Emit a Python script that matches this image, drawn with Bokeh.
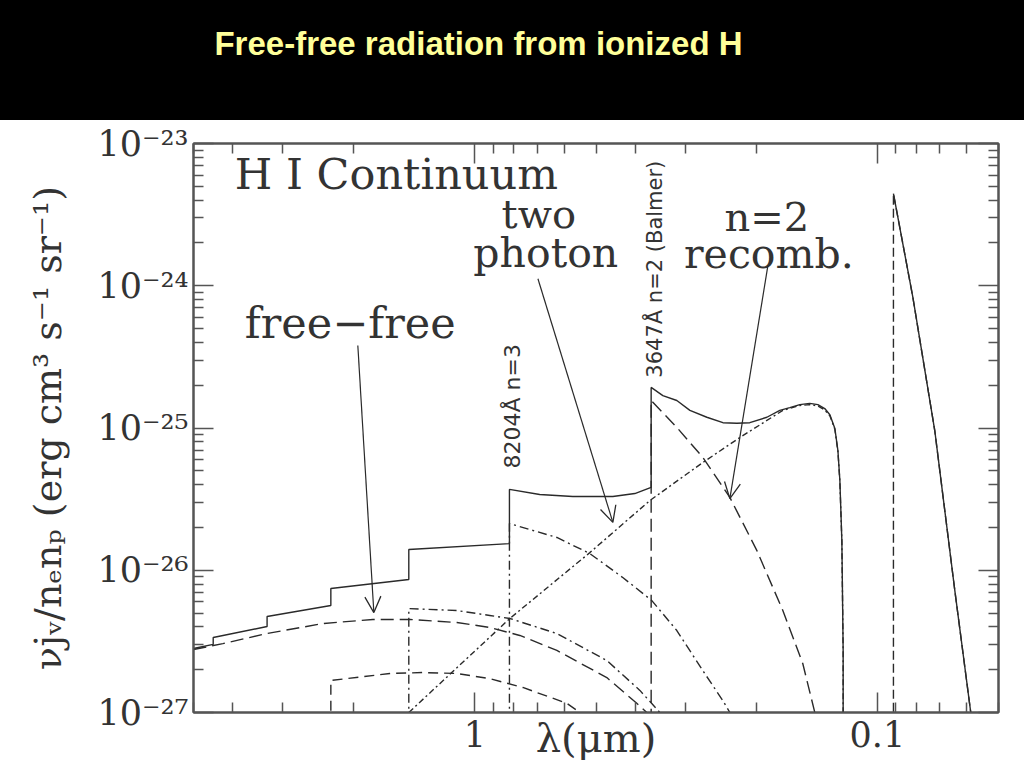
from bokeh.plotting import figure
from bokeh.layouts import column
from bokeh.models import Range1d, FixedTicker, LogAxis, Label, Arrow, OpenHead
from bokeh.embed import file_html
from bokeh.resources import INLINE

# ---------------- data (wavelength in micron, nu j_nu / n_e n_p) ----------------
total_lam = [5.0, 4.467, 4.467, 3.282, 3.282, 2.279, 2.279, 1.459, 1.459, 0.8204, 0.8204,
             0.690, 0.571, 0.454, 0.4004, 0.3647, 0.3647, 0.3411, 0.3149, 0.2922, 0.2652,
             0.2419, 0.2234, 0.2074, 0.1881, 0.1747, 0.1650, 0.1558, 0.1472, 0.1405, 0.1351,
             0.1312, 0.1275, 0.1253, 0.1239, 0.1225, 0.1216, 0.1216]
total_val = [2.82e-27, 3.01e-27, 3.37e-27, 4.02e-27, 4.73e-27, 5.65e-27, 7.44e-27, 8.61e-27,
             1.40e-26, 1.54e-26, 3.70e-26, 3.41e-26, 3.30e-26, 3.30e-26, 3.46e-26, 3.82e-26,
             1.93e-25, 1.69e-25, 1.56e-25, 1.33e-25, 1.19e-25, 1.09e-25, 1.08e-25, 1.09e-25,
             1.19e-25, 1.33e-25, 1.39e-25, 1.46e-25, 1.49e-25, 1.46e-25, 1.37e-25, 1.24e-25,
             9.92e-26, 6.95e-26, 4.28e-26, 1.62e-26, 2.73e-27, 1.0e-28]

total_lyc_lam = [0.0912, 0.0816, 0.0720, 0.0642, 0.0586]
total_lyc_val = [4.45e-24, 8.27e-25, 9.60e-26, 7.21e-27, 1.0e-27]

twoph_lam = [1.459, 0.8185, 0.518, 0.3674, 0.2714, 0.2196, 0.1717, 0.1558, 0.1472, 0.1405,
             0.1351, 0.1312, 0.1275, 0.1253, 0.1239, 0.1225, 0.1216, 0.1216]
twoph_val = [1.0e-27, 4.58e-27, 1.33e-26, 3.09e-26, 5.72e-26, 8.57e-26, 1.33e-25, 1.44e-25,
             1.46e-25, 1.43e-25, 1.34e-25, 1.22e-25, 9.78e-26, 6.85e-26, 4.20e-26, 1.60e-26,
             2.70e-27, 1.0e-28]

ff_lam = [5.0, 4.227, 3.287, 2.386, 1.792, 1.45, 1.108, 0.918, 0.773, 0.6255, 0.470, 0.396, 0.374]
ff_val = [2.77e-27, 3.05e-27, 3.59e-27, 4.22e-27, 4.51e-27, 4.51e-27, 4.29e-27, 3.96e-27,
          3.48e-27, 2.73e-27, 1.76e-27, 1.16e-27, 1.0e-27]

n5_lam = [2.279, 2.279, 1.626, 1.347, 1.108, 0.918, 0.760, 0.5905, 0.548]
n5_val = [1.0e-28, 1.68e-27, 1.88e-27, 1.91e-27, 1.88e-27, 1.73e-27, 1.50e-27, 1.16e-27, 1.0e-27]

n4_lam = [1.459, 1.459, 1.108, 0.918, 0.8185, 0.6255, 0.470, 0.389, 0.347]
n4_val = [1.0e-28, 5.38e-27, 5.21e-27, 4.81e-27, 4.58e-27, 3.59e-27, 2.32e-27, 1.43e-27, 1.0e-27]

n3_lam = [0.8204, 0.8204, 0.6255, 0.518, 0.429, 0.3633, 0.3149, 0.2714, 0.2419, 0.2325]
n3_val = [1.0e-28, 2.13e-26, 1.70e-26, 1.31e-26, 8.89e-27, 6.12e-27, 3.77e-27, 1.97e-27,
          1.21e-27, 1.0e-27]

n2_lam = [0.3647, 0.3647, 0.3149, 0.2714, 0.2325, 0.1993, 0.1717, 0.1532, 0.1430]
n2_val = [1.0e-28, 1.56e-25, 1.01e-25, 6.21e-26, 3.25e-26, 1.38e-26, 5.21e-27, 2.21e-27, 1.0e-27]

n1_lam = [0.0912, 0.0912, 0.0816, 0.0720, 0.0642, 0.0586]
n1_val = [1.0e-28, 4.45e-24, 8.27e-25, 9.60e-26, 7.21e-27, 1.0e-27]

x_major = [1.0, 0.1]
x_major_labels = ["1", "0.1"]
y_major = [1e-27, 1e-26, 1e-25, 1e-24, 1e-23]
y_major_labels = ["10\u207b\u00b2\u2077", "10\u207b\u00b2\u2076", "10\u207b\u00b2\u2075",
                  "10\u207b\u00b2\u2074", "10\u207b\u00b2\u00b3"]

title_text = "Free-free radiation from ionized H"
x_label = "\u03bb(\u03bcm)"
y_label = "\u03bdj\u1d65/n\u2091n\u209a (erg cm\u00b3 s\u207b\u00b9 sr\u207b\u00b9)"

# ---------------- style constants ----------------
INK = "#2a2a2a"
AX = "#555555"
SERIF = "DejaVu Serif"
BORDERS = dict(min_border_left=193, min_border_right=26)

# ---------------- header band ----------------
top = figure(width=1024, height=120, x_range=Range1d(193, 998), y_range=Range1d(0, 120),
             output_backend="svg", toolbar_location=None, min_border_top=0,
             min_border_bottom=0, x_axis_location=None, y_axis_location=None, **BORDERS)
top.styles = {"background-color": "#000000"}
top.grid.visible = False
top.background_fill_color = "black"
top.border_fill_color = None
top.outline_line_color = None
top.add_layout(Label(x=478, y=77, text=title_text, text_align="center", text_baseline="middle",
                     text_font="Liberation Sans", text_font_style="bold", text_font_size="33px",
                     text_color="#FFFF99"))

# ---------------- main plot ----------------
p = figure(width=1024, height=648, x_axis_type="log", y_axis_type="log",
           x_range=Range1d(5.0, 0.05), y_range=Range1d(1e-27, 1e-23),
           output_backend="svg", toolbar_location=None,
           min_border_top=23, min_border_bottom=56, **BORDERS)
p.grid.visible = False
p.background_fill_color = "white"
p.border_fill_color = "white"
p.outline_line_color = AX
p.outline_line_width = 2

x_minor = [m * 10.0 ** e for e in (-2, -1, 0) for m in range(2, 10)
           if 0.05 <= m * 10.0 ** e <= 5.0]
y_minor = [m * 10.0 ** e for e in range(-27, -23) for m in range(2, 10)]
xticker = FixedTicker(ticks=x_major, minor_ticks=x_minor)
yticker = FixedTicker(ticks=y_major, minor_ticks=y_minor)


def style_axis(ax):
    ax.axis_line_color = AX
    ax.axis_line_width = 2
    ax.major_tick_in = 20
    ax.major_tick_out = 0
    ax.minor_tick_in = 10
    ax.minor_tick_out = 0
    ax.major_tick_line_color = AX
    ax.major_tick_line_width = 1.5
    ax.minor_tick_line_color = AX
    ax.minor_tick_line_width = 1.5
    ax.major_label_text_font = SERIF
    ax.major_label_text_font_size = "35px"
    ax.major_label_text_color = "#333333"


xa = p.xaxis[0]
xa.ticker = xticker
style_axis(xa)
xa.major_label_overrides = {v: t for v, t in zip(x_major, x_major_labels)}
xa.major_label_standoff = 8
xa.axis_label = x_label
xa.axis_label_text_font = SERIF
xa.axis_label_text_font_size = "40px"
xa.axis_label_text_font_style = "normal"
xa.axis_label_text_color = "#333333"
xa.axis_label_standoff = -35

ya = p.yaxis[0]
ya.ticker = yticker
style_axis(ya)
ya.major_label_overrides = {v: t for v, t in zip(y_major, y_major_labels)}
ya.major_label_standoff = 5
ya.axis_label = y_label
ya.axis_label_text_font = SERIF
ya.axis_label_text_font_size = "38px"
ya.axis_label_text_font_style = "normal"
ya.axis_label_text_color = "#333333"
ya.axis_label_standoff = 24

top_ax = LogAxis(ticker=xticker)
style_axis(top_ax)
top_ax.major_label_overrides = {v: "" for v in x_major}
top_ax.major_label_text_font_size = "0px"
p.add_layout(top_ax, "above")

right_ax = LogAxis(ticker=yticker)
style_axis(right_ax)
right_ax.major_label_overrides = {v: "" for v in y_major}
right_ax.major_label_text_font_size = "0px"
p.add_layout(right_ax, "right")

LW = 1.4
p.line(total_lam, total_val, line_color=INK, line_width=LW)
p.line(total_lyc_lam, total_lyc_val, line_color=INK, line_width=LW)
p.line(ff_lam, ff_val, line_color=INK, line_width=LW, line_dash="13 6")
p.line(twoph_lam, twoph_val, line_color=INK, line_width=LW, line_dash="6 3 2 3")
p.line(n5_lam, n5_val, line_color=INK, line_width=LW, line_dash="10 6")
p.line(n4_lam, n4_val, line_color=INK, line_width=LW, line_dash="9 4 2 4")
p.line(n3_lam, n3_val, line_color=INK, line_width=LW, line_dash="9 4 2 4")
p.line(n2_lam, n2_val, line_color=INK, line_width=LW, line_dash="13 6")
p.line(n1_lam, n1_val, line_color=INK, line_width=LW, line_dash="9 4")


def lab(x, y, text, size, align="left", font=SERIF, angle=0.0, baseline="middle"):
    p.add_layout(Label(x=x, y=y, text=text, text_font=font, text_font_size=size,
                       text_align=align, text_baseline=baseline, text_color="#333333",
                       angle=angle))


lab(3.948, 6.15e-24, "H I Continuum", "43px")
lab(3.728, 5.43e-25, "free\u2212free", "43px")
lab(0.6935, 3.22e-24, "two", "40px", align="center")
lab(0.6663, 1.69e-24, "photon", "41px", align="center")
lab(0.1881, 3.02e-24, "n=2", "40px", align="center")
lab(0.1860, 1.66e-24, "recomb.", "41px", align="center")
lab(0.8045, 5.19e-26, "8204\u00c5 n=3", "22px", font="DejaVu Sans", angle=1.5708)
lab(0.3570, 2.26e-25, "3647\u00c5 n=2 (Balmer)", "21px", font="DejaVu Sans", angle=1.5708)

arrows = [((1.953, 3.80e-25), (1.782, 5.04e-27)),
          ((0.697, 1.12e-24), (0.4540, 2.17e-26)),
          ((0.187, 1.39e-24), (0.2325, 3.19e-26))]
for (xs, ys), (xe, ye) in arrows:
    p.add_layout(Arrow(end=OpenHead(size=16, line_color=INK, line_width=1.3),
                       x_start=xs, y_start=ys, x_end=xe, y_end=ye,
                       line_color=INK, line_width=1.2))

layout = column(top, p)
html = file_html(layout, INLINE, title="Free-free radiation from ionized H")
html = html.replace("<body>", '<body style="background-color:#000000;">', 1)
open("out.html", "w").write(html)
